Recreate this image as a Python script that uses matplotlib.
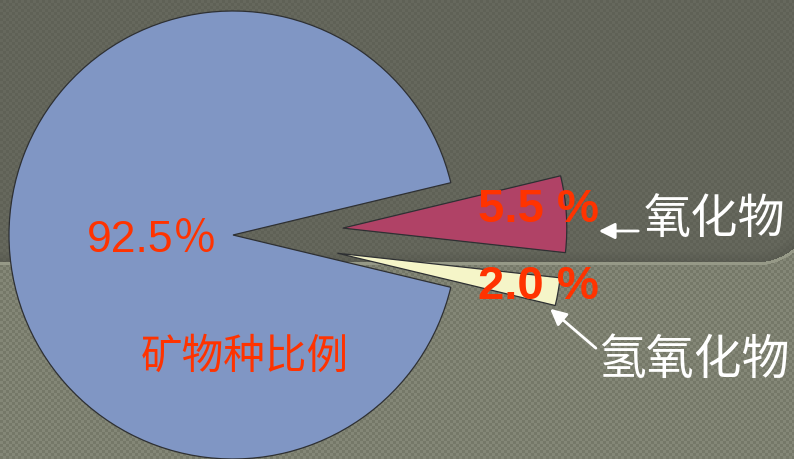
import numpy as np
import matplotlib
matplotlib.use('Agg')
import matplotlib.pyplot as plt

# 数据
names = ['矿物种比例', '氢氧化物', '氧化物']
values = [92.5, 2.0, 5.5]
pct_labels = ['92.5％', '2.0 %', '5.5 %']
colors = ['#8096c4', '#f5f5c8', '#b04266']
explode = [0, 106, 110]  # 像素单位

W, H = 794, 459

# 背景: 上深下浅, 带格纹
yy, xx = np.mgrid[0:H, 0:W]
checker = ((xx // 3 + yy // 3) % 2) * 2 - 1
bg = np.zeros((H, W, 3))
low = np.array([125, 128, 112]) / 255
top = np.array([99, 101, 90]) / 255
# 上半区域为圆角矩形
r = 60
cx, cy = 755, 262 - r
in_top = (yy < 262) & (xx < cx)
corner = (xx >= cx) & ((yy < cy) | ((xx - cx) ** 2 + (yy - cy) ** 2 < r * r))
mask = in_top | corner
bg[:] = low
bg[mask] = top
amp = np.where(mask, 0.012, 0.028)
bg += (checker * amp)[..., None]
# 边界下方的亮线
dist = np.where(xx < cx, yy - 262, np.sqrt((xx - cx) ** 2 + np.maximum(yy - cy, 0) ** 2) - r)
line = (dist >= 0) & (dist < 3) & (yy > 200)
bg[line] = np.array([150, 153, 135]) / 255
shade = (dist < 0) & (dist > -12)
bg[shade] *= (0.9 + 0.1 * (-dist[shade] / 12))[..., None]
bg = np.clip(bg, 0, 1)

fig = plt.figure(figsize=(W / 100, H / 100), dpi=100)
ax = fig.add_axes([0, 0, 1, 1])
ax.imshow(bg, extent=(0, W, 0, H), origin='upper', zorder=0)

wedges, _ = ax.pie(values, colors=colors, explode=explode, startangle=13.5,
                   center=(233, 224), radius=224,
                   wedgeprops=dict(edgecolor='#2e3033', linewidth=0.9, zorder=2))
ax.set_xlim(0, W)
ax.set_ylim(0, H)
ax.set_aspect('equal')
ax.axis('off')

red = '#ff3300'
fam_num = ['Liberation Sans', 'Noto Sans CJK SC']
fam_cjk = ['Noto Sans CJK SC', 'DejaVu Sans']

ax.text(152, 459 - 240, pct_labels[0], color=red, fontsize=32, family=fam_num,
        ha='center', va='center', zorder=5)
ax.text(245, 459 - 357, names[0], color=red, fontsize=30, family=fam_cjk,
        ha='center', va='center', zorder=5)
ax.text(538, 459 - 210, pct_labels[2], color=red, fontsize=34, family=fam_num,
        fontweight='bold', ha='center', va='center', zorder=5)
ax.text(538, 459 - 287, pct_labels[1], color=red, fontsize=34, family=fam_num,
        fontweight='bold', ha='center', va='center', zorder=5)

ax.text(715, 459 - 220, names[2], color='white', fontsize=34, family=fam_cjk,
        ha='center', va='center', zorder=5)
ax.text(694, 459 - 360, names[1], color='white', fontsize=34.5, family=fam_cjk,
        ha='center', va='center', zorder=5)

ax.annotate('', xy=(596, 459 - 231), xytext=(641, 459 - 231),
            arrowprops=dict(arrowstyle='-|>', color='white', lw=2, mutation_scale=24),
            zorder=5)
ax.annotate('', xy=(548, 459 - 307), xytext=(598, 459 - 350),
            arrowprops=dict(arrowstyle='-|>', color='white', lw=2, mutation_scale=24),
            zorder=5)

plt.savefig('out.png', dpi=100)
plt.close()
